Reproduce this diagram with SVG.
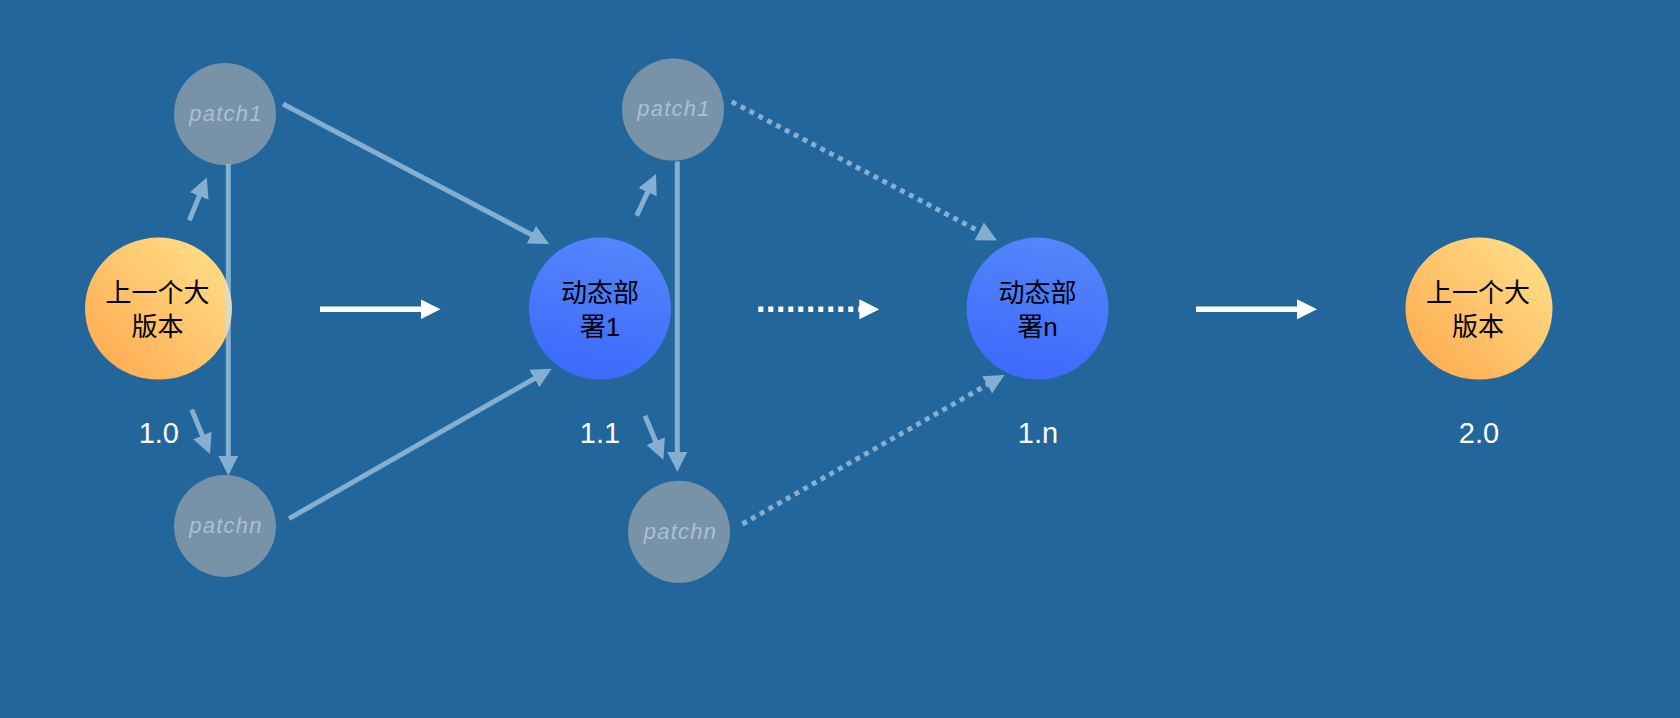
<svg xmlns="http://www.w3.org/2000/svg" width="1680" height="718" viewBox="0 0 1680 718">
<defs>
<linearGradient id="gOrange" x1="1" y1="0" x2="0" y2="1">
<stop offset="0" stop-color="#ffe38c"/>
<stop offset="1" stop-color="#fea64c"/>
</linearGradient>
<linearGradient id="gBlue" x1="0.6" y1="0" x2="0.4" y2="1">
<stop offset="0" stop-color="#5486fb"/>
<stop offset="1" stop-color="#3e69fb"/>
</linearGradient>
<marker id="mLight" markerUnits="userSpaceOnUse" markerWidth="20" markerHeight="20" refX="10" refY="10" orient="auto">
<path d="M0,0 L20,10 L0,20 Z" fill="#c8e0f5"/>
</marker>
<marker id="mWhite" markerUnits="userSpaceOnUse" markerWidth="20" markerHeight="20" refX="10" refY="10" orient="auto">
<path d="M0,0 L20,10 L0,20 Z" fill="#ffffff"/>
</marker>
<style>
.orange{fill:url(#gOrange);}
.blue{fill:url(#gBlue);}
.patch{fill:#7892a8;}
.cjk{font-family:"Liberation Sans","Noto Sans CJK SC",sans-serif;font-size:26px;fill:#000;text-anchor:middle;}
.ver{font-family:"Liberation Sans",Arial,sans-serif;font-size:29px;fill:#ffffff;text-anchor:middle;}
.ptxt{font-family:"Liberation Sans",Arial,sans-serif;font-size:22px;font-style:italic;fill:#aac0d4;text-anchor:middle;letter-spacing:1.2px;}
.lc{stroke:#c8e0f5;stroke-width:5;fill:none;marker-end:url(#mLight);}
.dot{stroke-dasharray:5 5;}
.wc{stroke:#ffffff;stroke-width:5.5;fill:none;marker-end:url(#mWhite);}
</style>
</defs>
<rect width="1680" height="718" fill="#22669c"/>

<g id="v10">
<ellipse class="orange" cx="158.5" cy="308.6" rx="73.5" ry="71"/>
<text class="cjk" x="157.5" y="302">上一个大</text>
<text class="cjk" x="157.5" y="336">版本</text>
<text class="ver" x="158.8" y="443.3">1.0</text>
</g>
<g id="p1a">
<circle class="patch" cx="225" cy="114" r="51"/>
<text class="ptxt" x="226" y="120.7">patch1</text>
</g>
<g id="pna">
<circle class="patch" cx="225" cy="526" r="51"/>
<text class="ptxt" x="226" y="532.7">patchn</text>
</g>
<g id="v11">
<circle class="blue" cx="600" cy="308.6" r="71"/>
<text class="cjk" x="600" y="302">动态部</text>
<text class="cjk" x="600" y="336">署1</text>
<text class="ver" x="600" y="443.3">1.1</text>
</g>
<g id="p1b">
<circle class="patch" cx="673" cy="109.6" r="51"/>
<text class="ptxt" x="674" y="116.3">patch1</text>
</g>
<g id="pnb">
<circle class="patch" cx="679" cy="531.8" r="51"/>
<text class="ptxt" x="680.5" y="538.5">patchn</text>
</g>
<g id="v1n">
<circle class="blue" cx="1037.5" cy="308.6" r="71"/>
<text class="cjk" x="1037.5" y="302">动态部</text>
<text class="cjk" x="1037.5" y="336">署n</text>
<text class="ver" x="1038" y="443.3">1.n</text>
</g>
<g id="v20">
<ellipse class="orange" cx="1479" cy="308.6" rx="73.5" ry="71"/>
<text class="cjk" x="1478" y="302">上一个大</text>
<text class="cjk" x="1478" y="336">版本</text>
<text class="ver" x="1479" y="443.3">2.0</text>
</g>

<g id="connectors">
<g opacity="0.6">
<line class="lc" x1="283" y1="104" x2="540.2" y2="239.3"/>
<line class="lc" x1="289" y1="518.6" x2="543" y2="373.6"/>
<line class="lc" x1="228.3" y1="164" x2="228.3" y2="465.7"/>
<line class="lc" x1="189.3" y1="220.4" x2="203" y2="186.8"/>
<line class="lc" x1="191.7" y1="409.6" x2="206.2" y2="444.7"/>
<line class="lc" x1="677.3" y1="161.4" x2="677.3" y2="462"/>
<line class="lc" x1="636.7" y1="215.7" x2="651.8" y2="183.1"/>
<line class="lc" x1="645" y1="415.7" x2="659.5" y2="450.4"/>
<line class="lc dot" x1="731.8" y1="101.8" x2="988.1" y2="235.9"/>
<line class="lc dot" x1="742.5" y1="524" x2="995.8" y2="379.9"/>
</g>
<line class="wc" x1="320" y1="309.3" x2="430.5" y2="309.3"/>
<line class="wc dot" x1="758.3" y1="309.3" x2="869.3" y2="309.3"/>
<line class="wc" x1="1196" y1="309.3" x2="1307" y2="309.3"/>
</g>
</svg>
